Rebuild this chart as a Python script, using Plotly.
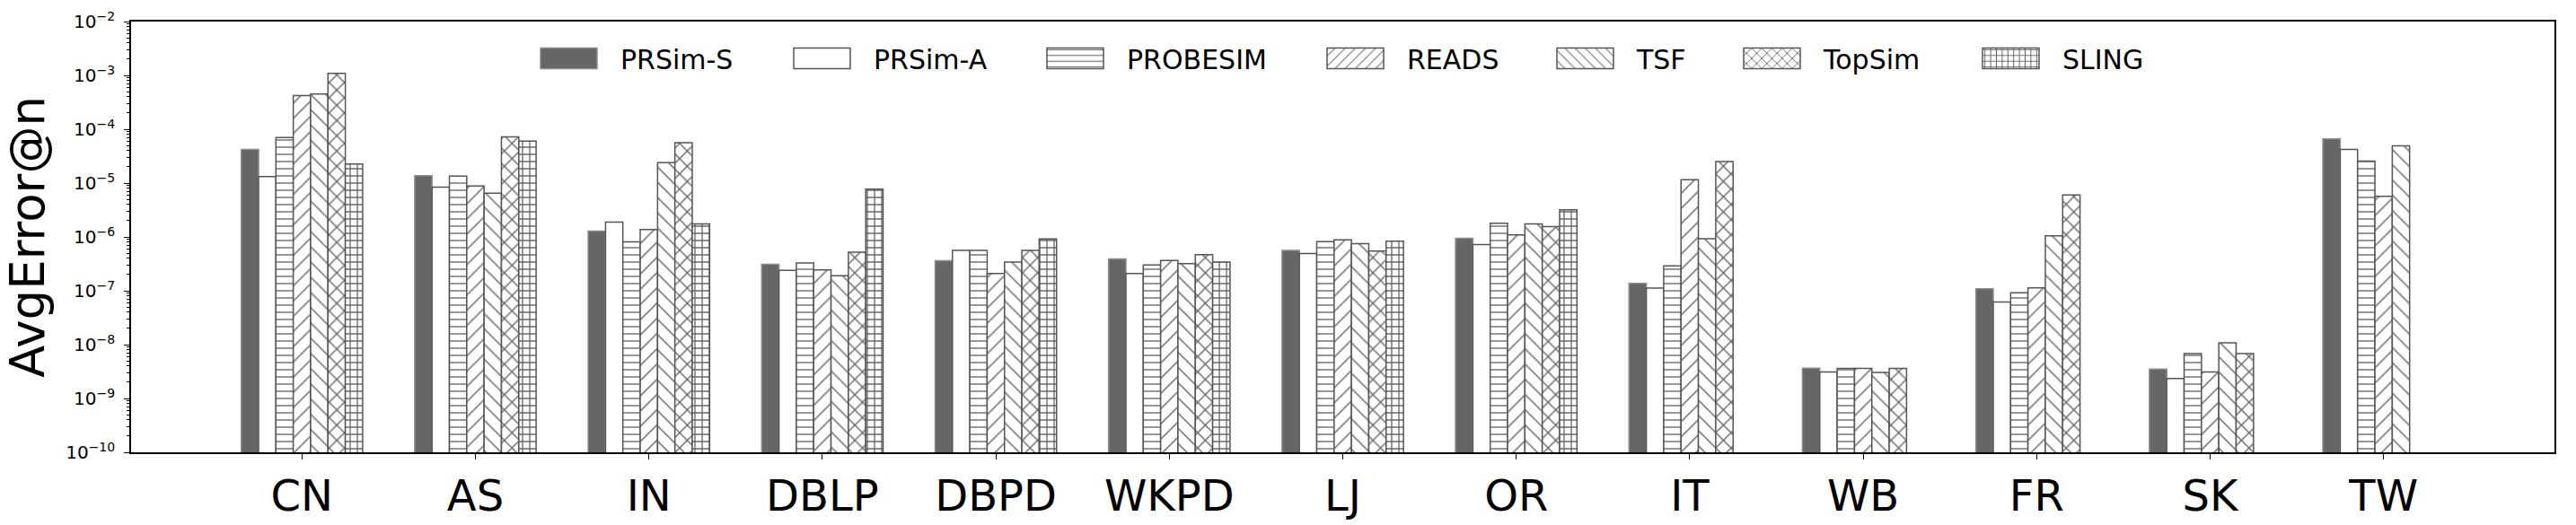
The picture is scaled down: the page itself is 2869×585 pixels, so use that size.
import plotly.graph_objects as go

categories = ["CN", "AS", "IN", "DBLP", "DBPD", "WKPD", "LJ", "OR", "IT", "WB", "FR", "SK", "TW"]
series_names = ["PRSim-S", "PRSim-A", "PROBESIM", "READS", "TSF", "TopSim", "SLING"]

prsim_s = [4.2e-5, 1.37e-5, 1.28e-6, 3.1e-7, 3.6e-7, 3.9e-7, 5.6e-7, 9.4e-7, 1.37e-7, 3.65e-9, 1.09e-7, 3.5e-9, 6.6e-5]
prsim_a = [1.32e-5, 8.4e-6, 1.88e-6, 2.4e-7, 5.6e-7, 2.1e-7, 4.9e-7, 7.2e-7, 1.12e-7, 3.1e-9, 6.2e-8, 2.35e-9, 4.2e-5]
probesim = [7.0e-5, 1.35e-5, 8.1e-7, 3.3e-7, 5.6e-7, 3.0e-7, 8.2e-7, 1.79e-6, 2.9e-7, 3.6e-9, 9.2e-8, 6.8e-9, 2.57e-5]
reads = [4.2e-4, 8.8e-6, 1.37e-6, 2.45e-7, 2.1e-7, 3.65e-7, 8.8e-7, 1.09e-6, 1.15e-5, 3.6e-9, 1.13e-7, 3.1e-9, 5.7e-6]
tsf = [4.5e-4, 6.5e-6, 2.4e-5, 1.9e-7, 3.4e-7, 3.2e-7, 7.5e-7, 1.75e-6, 9.3e-7, 3.05e-9, 1.05e-6, 1.08e-8, 4.9e-5]
topsim = [1.09e-3, 7.2e-5, 5.6e-5, 5.2e-7, 5.6e-7, 4.7e-7, 5.45e-7, 1.56e-6, 2.5e-5, 3.6e-9, 6.0e-6, 6.8e-9, None]
sling = [2.25e-5, 6.0e-5, 1.75e-6, 7.7e-6, 9.2e-7, 3.4e-7, 8.3e-7, 3.2e-6, None, None, None, None, None]

series_values = [prsim_s, prsim_a, probesim, reads, tsf, topsim, sling]

ytick_exponents = [-10, -9, -8, -7, -6, -5, -4, -3, -2]
ytick_vals = [10.0 ** e for e in ytick_exponents]
ytick_text = ["10<sup>\u2212%d</sup>" % (-e) for e in ytick_exponents]

# styles
W, H, L, R, T, B = 2869, 585, 146, 24, 24, 81
patterns = [
    None,
    None,
    dict(shape="-", size=8, solidity=0.17),
    dict(shape="/", size=12, solidity=0.12),
    dict(shape="\\", size=12, solidity=0.12),
    dict(shape="x", size=12, solidity=0.22),
    dict(shape="+", size=8, solidity=0.3),
]
FONT = "DejaVu Sans"
legend_swatch_left = [602, 884, 1166, 1478, 1734, 1942, 2208]
SWATCH_OFFSET = 26

fig = go.Figure()
for i, (name, vals) in enumerate(zip(series_names, series_values)):
    if i == 0:
        marker = dict(color="#666666", line=dict(color="#8c8c8c", width=1.5))
    else:
        pat = patterns[i]
        marker = dict(color="white", line=dict(color="#555555", width=1.5))
        if pat:
            marker["pattern"] = dict(shape=pat["shape"], size=pat["size"], solidity=pat["solidity"],
                                     fgcolor="#666666", bgcolor="white", fillmode="replace")
    lname = "legend" if i == 0 else "legend%d" % (i + 1)
    fig.add_trace(go.Bar(x=categories, y=vals, name=name, marker=marker, legend=lname))

plot_w = W - L - R
plot_h = H - T - B
for i in range(7):
    lname = "legend" if i == 0 else "legend%d" % (i + 1)
    xpx = legend_swatch_left[i] - SWATCH_OFFSET - L
    fig.update_layout(**{lname: dict(
        x=xpx / plot_w, xanchor="left", y=1 - (65 - T) / plot_h, yanchor="middle",
        orientation="h", font=dict(family=FONT, size=30, color="black"),
        bgcolor="rgba(0,0,0,0)", borderwidth=0, itemwidth=105,
        itemclick=False, itemdoubleclick=False,
    )})

fig.update_layout(
    width=W, height=H,
    margin=dict(l=L, r=R, t=T, b=B, pad=0, autoexpand=False),
    paper_bgcolor="white", plot_bgcolor="white",
    barmode="group", bargap=0.3, bargroupgap=0,
    font=dict(family=FONT, color="black"),
    showlegend=True,
    xaxis=dict(
        type="category", range=[-0.985, 12.985], automargin=False,
        showline=True, mirror=True, linecolor="black", linewidth=1.6,
        ticks="outside", ticklen=6, tickwidth=1.3, tickcolor="black",
        tickfont=dict(family=FONT, size=48, color="black"),
        ticklabelstandoff=0, showgrid=False, zeroline=False,
    ),
    yaxis=dict(
        type="log", range=[-10, -2], automargin=False,
        tickmode="array", tickvals=ytick_vals, ticktext=ytick_text,
        showline=True, mirror=True, linecolor="black", linewidth=1.6,
        ticks="outside", ticklen=6, tickwidth=1.3, tickcolor="black",
        minor=dict(ticks="outside", ticklen=3, tickwidth=1, tickcolor="black", dtick="D1", showgrid=False),
        tickfont=dict(family=FONT, size=20, color="black"),
        ticklabelstandoff=6, showgrid=False, zeroline=False,
        title=dict(text="AvgError@n", font=dict(family=FONT, size=53, color="black"), standoff=12),
    ),
)

post = """
var gd = document.getElementById('{plot_id}');
gd.querySelectorAll('g.legendpoints path').forEach(function(p){
  p.setAttribute('d','M31.5,11.5H-31.5V-11.5H31.5Z');
});
"""
fig.write_html("out.html", post_script=post)
